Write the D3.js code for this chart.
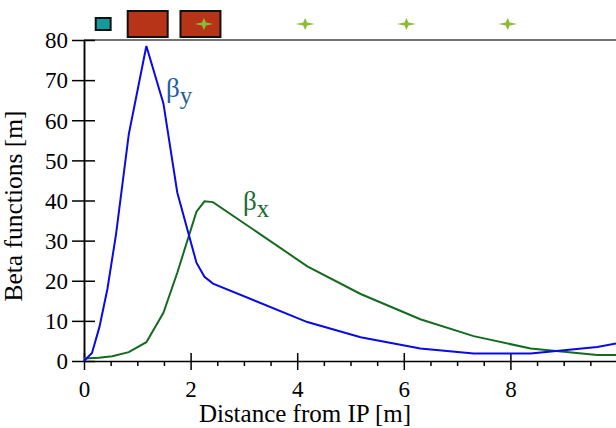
<!DOCTYPE html>
<html>
<head>
<meta charset="utf-8">
<script src="https://cdn.jsdelivr.net/npm/d3@7"></script>
<style>
  html, body { margin: 0; padding: 0; background: #fff; }
  svg { display: block; }
  .axis path, .axis line { stroke: #000; stroke-width: 1.5; }
</style>
</head>
<body>
<svg id="chart" width="616" height="428"></svg>
<script>
// beta functions vs distance from IP
const sY = [0, 0.15, 0.29, 0.44, 0.6, 0.84, 1.17, 1.49, 1.75, 2.11, 2.26, 2.42, 4.19, 5.19, 6.31, 7.31, 8.38, 9.63, 10];
const betaY = [0, 2, 8.5, 18, 31.5, 56.5, 78.5, 64.2, 42, 24.5, 21, 19.3, 9.7, 5.9, 3.1, 1.9, 1.9, 3.5, 4.4];
const sX = [0, 0.28, 0.53, 0.84, 1.17, 1.49, 1.75, 2.11, 2.26, 2.42, 4.19, 5.19, 6.31, 7.31, 8.38, 9.63, 10];
const betaX = [0.6, 0.8, 1.2, 2.2, 4.7, 12, 22, 37.2, 39.8, 39.6, 23.6, 16.7, 10.4, 6.2, 3.1, 1.5, 1.5];

const xMajor = [0, 2, 4, 6, 8];
const xMinor = [0.5, 1, 1.5, 2.5, 3, 3.5, 4.5, 5, 5.5, 6.5, 7, 7.5, 8.5, 9, 9.5];
const yTicks = [0, 10, 20, 30, 40, 50, 60, 70, 80];

// lattice elements drawn above the plot
const quadSmall = [[0.22, 0.5]];
const quadBig = [[0.82, 1.57], [1.81, 2.56]];
const starPos = [2.25, 4.15, 6.05, 7.95];

const FONT = "Liberation Serif, Times New Roman, serif";
const svg = d3.select("#chart").attr("font-family", FONT);
const x = d3.scaleLinear().domain([0, 10]).range([84, 617]);
const y = d3.scaleLinear().domain([0, 80]).range([361, 40]);

// top frame line
svg.append("line").attr("x1", x(0)).attr("x2", 616).attr("y1", y(80)).attr("y2", y(80))
  .attr("stroke", "#444").attr("stroke-width", 1.5);

const styleAxis = g => {
  g.attr("font-family", FONT).attr("font-size", 23);
  g.selectAll("text").attr("fill", "#000").attr("font-family", FONT).attr("font-size", 23);
};

// y axis: ticks crossing the axis line
svg.append("g").attr("class", "axis").attr("transform", `translate(${x(0)},0)`)
  .call(d3.axisLeft(y).tickValues(yTicks).tickSize(12).tickPadding(4).tickSizeOuter(0))
  .call(styleAxis)
  .call(g => g.selectAll("text").attr("dy", "0.34em"));
svg.append("g").attr("class", "axis").attr("transform", `translate(${x(0)},0)`)
  .call(d3.axisRight(y).tickValues(yTicks).tickSize(11).tickFormat("").tickSizeOuter(0));

// x axis
svg.append("g").attr("class", "axis").attr("transform", `translate(0,${y(0)})`)
  .call(d3.axisBottom(x).tickValues(xMajor).tickSize(9).tickPadding(11).tickSizeOuter(0))
  .call(styleAxis);
svg.append("g").attr("class", "axis").attr("transform", `translate(0,${y(0)})`)
  .call(d3.axisTop(x).tickValues(xMajor).tickSize(8).tickFormat("").tickSizeOuter(0))
  .call(g => g.select(".domain").remove());
svg.append("g").attr("class", "axis").attr("transform", `translate(0,${y(0)})`)
  .call(d3.axisBottom(x).tickValues(xMinor).tickSize(5).tickFormat("").tickSizeOuter(0))
  .call(g => g.select(".domain").remove());

// axis titles
svg.append("text").attr("x", 305).attr("y", 422).attr("text-anchor", "middle")
  .attr("font-size", 25).text("Distance from IP [m]");
svg.append("text").attr("transform", "translate(22,206) rotate(-90)").attr("text-anchor", "middle")
  .attr("font-size", 25.5).text("Beta functions [m]");

// curves
const line = d3.line().x(d => x(d[0])).y(d => y(d[1]));
svg.append("path").datum(d3.zip(sX, betaX)).attr("fill", "none")
  .attr("stroke", "#146b20").attr("stroke-width", 2).attr("d", line);
svg.append("path").datum(d3.zip(sY, betaY)).attr("fill", "none")
  .attr("stroke", "#0a0ae6").attr("stroke-width", 2).attr("d", line);

// curve labels
function betaLabel(px, py, sub, color) {
  const t = svg.append("text").attr("x", px).attr("y", py).attr("fill", color).attr("font-size", 27);
  t.append("tspan").text("β");
  t.append("tspan").attr("dy", 7).attr("font-size", 25).text(sub);
}
betaLabel(166, 97, "y", "#1f5c9e");
betaLabel(243, 210, "x", "#1b6a35");

// elements
const elems = svg.append("g");
elems.selectAll(".qs").data(quadSmall).join("rect")
  .attr("x", d => x(d[0])).attr("width", d => x(d[1]) - x(d[0]))
  .attr("y", 18).attr("height", 12)
  .attr("fill", "#149c9c").attr("stroke", "#111").attr("stroke-width", 2);
elems.selectAll(".qb").data(quadBig).join("rect")
  .attr("x", d => x(d[0])).attr("width", d => x(d[1]) - x(d[0]))
  .attr("y", 11).attr("height", 26)
  .attr("fill", "#b83418").attr("stroke", "#111").attr("stroke-width", 2);
const star = "M-9.5,0 L-2,-1.6 L0,-6 L2,-1.6 L9.5,0 L2,1.6 L0,6 L-2,1.6 Z";
elems.selectAll(".st").data(starPos).join("path")
  .attr("d", star).attr("transform", d => `translate(${x(d)},24)`)
  .attr("fill", "#8cbc34");
</script>
</body>
</html>
